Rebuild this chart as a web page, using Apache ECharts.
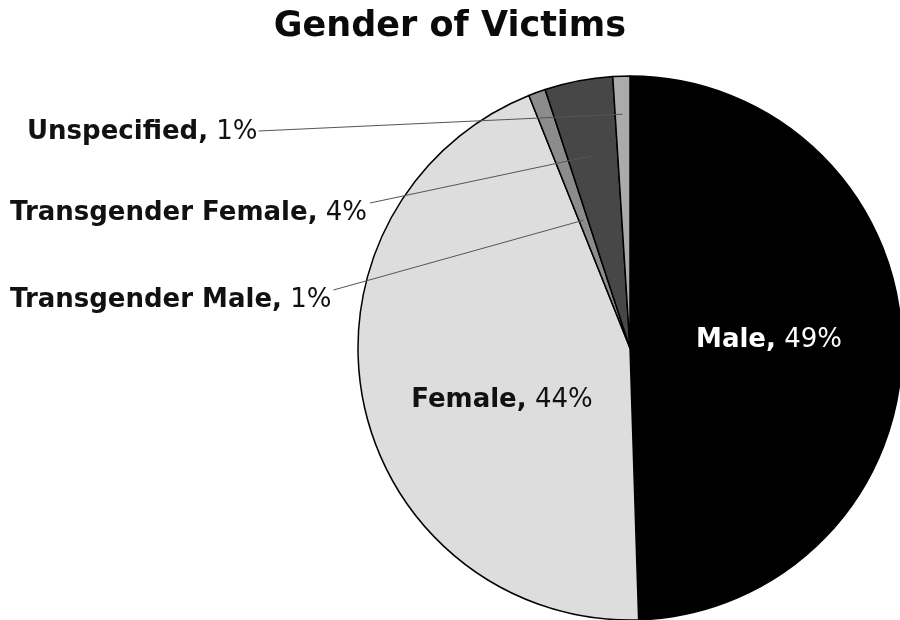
<!DOCTYPE html>
<html>
<head>
<meta charset="utf-8">
<style>
  html, body { margin: 0; padding: 0; background: #fff; }
  #chart { width: 900px; height: 620px; }
</style>
<script src="https://cdn.jsdelivr.net/npm/echarts@6/dist/echarts.min.js"></script>
</head>
<body>
<div id="chart"></div>
<script>
// Gender breakdown, percent of victims
const categories = ['Male', 'Female', 'Transgender Male', 'Transgender Female', 'Unspecified'];
const percentages = [49, 44, 1, 4, 1];
const sliceColors = ['#000000', '#dddddd', '#8c8c8c', '#474747', '#ababab'];

const CX = 630, CY = 348, R = 272;
const total = percentages.reduce((a, b) => a + b, 0);

// mid angle of each slice, clockwise from 12 o'clock, in radians
const midAngles = [];
let acc = 0;
percentages.forEach(v => {
  midAngles.push((acc + v / 2) / total * 2 * Math.PI);
  acc += v;
});

// outside labels: left edge, vertical centre, leader-line depth (fraction of radius), line start lift
const outsideSpots = {
  2: { x: 10, y: 300, depth: 0.5, lift: -10, gap: 2 },
  3: { x: 10, y: 213, depth: 0.72, lift: -10, gap: 3 },
  4: { x: 27, y: 132, depth: 0.86, lift: -1, gap: 1 }
};
// inside label nudges
const insideNudge = { 0: [0, -6], 1: [8, 24] };

const baseFont = 'DejaVu Sans';
const labelRich = {
  n: { fontFamily: baseFont, fontWeight: 'bold', fontSize: 26 },
  v: { fontFamily: baseFont, fontWeight: 'normal', fontSize: 26 }
};

// filled slices
const sliceData = categories.map((name, i) => ({
  name: name,
  value: percentages[i],
  itemStyle: { color: sliceColors[i] }
}));

// transparent copy on top, carrying the labels and leader lines
const labelData = categories.map((name, i) => {
  const inside = i < 2;
  return {
    name: name,
    value: percentages[i],
    label: {
      position: inside ? 'inside' : 'outside',
      color: i === 0 ? '#ffffff' : '#111111'
    },
    labelLine: { show: !inside }
  };
});

const chart = echarts.init(document.getElementById('chart'));
chart.setOption({
  backgroundColor: '#ffffff',
  animation: false,
  title: {
    text: 'Gender of Victims',
    left: 'center',
    top: 4,
    textStyle: { fontFamily: baseFont, fontWeight: 'bold', fontSize: 35, color: '#0a0a0a' }
  },
  series: [{
    type: 'pie',
    z: 2,
    center: [CX, CY],
    radius: R,
    startAngle: 90,
    clockwise: true,
    silent: true,
    itemStyle: { borderColor: '#000000', borderWidth: 1.5 },
    label: { show: false },
    labelLine: { show: false },
    data: sliceData
  }, {
    type: 'pie',
    z: 3,
    center: [CX, CY],
    radius: R,
    startAngle: 90,
    clockwise: true,
    silent: true,
    avoidLabelOverlap: false,
    itemStyle: { color: 'rgba(0,0,0,0)', borderWidth: 0 },
    label: {
      show: true,
      fontFamily: baseFont,
      fontSize: 26,
      formatter: '{n|{b},} {v|{c}%}',
      rich: labelRich
    },
    labelLine: {
      show: true,
      lineStyle: { color: '#555555', width: 1 }
    },
    labelLayout: function (params) {
      const i = params.dataIndex;
      if (insideNudge[i]) {
        return { dx: insideNudge[i][0], dy: insideNudge[i][1] };
      }
      const s = outsideSpots[i];
      const a = midAngles[i];
      const ix = CX + s.depth * R * Math.sin(a);
      const iy = CY - s.depth * R * Math.cos(a);
      const right = s.x + params.labelRect.width + s.gap;
      const sy = s.y + s.lift;
      return {
        x: s.x,
        y: s.y,
        align: 'left',
        verticalAlign: 'middle',
        labelLinePoints: [[right, sy], [ix, iy], [ix, iy]]
      };
    },
    data: labelData
  }]
});
</script>
</body>
</html>
